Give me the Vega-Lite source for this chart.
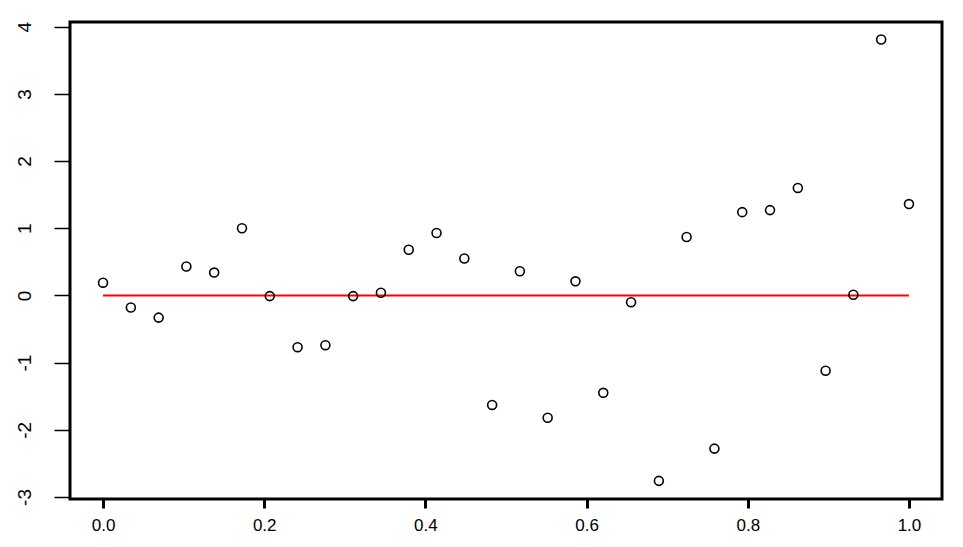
{
  "$schema": "https://vega.github.io/schema/vega-lite/v6.json",
  "autosize": "none",
  "width": 872,
  "height": 477,
  "padding": {"left": 70, "top": 22, "right": 21, "bottom": 48},
  "background": "white",
  "config": {
    "view": {"stroke": "black", "strokeWidth": 3},
    "font": "Liberation Sans"
  },
  "datasets": {
    "pts": [
      {"x": 0.0, "y": 0.19},
      {"x": 0.0345, "y": -0.18},
      {"x": 0.069, "y": -0.33},
      {"x": 0.1034, "y": 0.43},
      {"x": 0.1379, "y": 0.34},
      {"x": 0.1724, "y": 1.0},
      {"x": 0.2069, "y": -0.01},
      {"x": 0.2414, "y": -0.77},
      {"x": 0.2759, "y": -0.74},
      {"x": 0.3103, "y": -0.01},
      {"x": 0.3448, "y": 0.04},
      {"x": 0.3793, "y": 0.68},
      {"x": 0.4138, "y": 0.93},
      {"x": 0.4483, "y": 0.55},
      {"x": 0.4828, "y": -1.63},
      {"x": 0.5172, "y": 0.36},
      {"x": 0.5517, "y": -1.82},
      {"x": 0.5862, "y": 0.21},
      {"x": 0.6207, "y": -1.45},
      {"x": 0.6552, "y": -0.1},
      {"x": 0.6897, "y": -2.76},
      {"x": 0.7241, "y": 0.87},
      {"x": 0.7586, "y": -2.28},
      {"x": 0.7931, "y": 1.24},
      {"x": 0.8276, "y": 1.27},
      {"x": 0.8621, "y": 1.6},
      {"x": 0.8966, "y": -1.12},
      {"x": 0.931, "y": 0.01},
      {"x": 0.9655, "y": 3.81},
      {"x": 1.0, "y": 1.36}
    ],
    "fit": [
      {"x": 0.0, "y": 0.0},
      {"x": 1.0, "y": 0.0}
    ]
  },
  "layer": [
    {
      "data": {"name": "fit"},
      "mark": {"type": "line", "color": "#ff0000", "strokeWidth": 2},
      "encoding": {
        "x": {"field": "x", "type": "quantitative"},
        "y": {"field": "y", "type": "quantitative"}
      }
    },
    {
      "data": {"name": "pts"},
      "mark": {"type": "point", "shape": "circle", "filled": false, "color": "black", "size": 80, "strokeWidth": 1.6, "opacity": 1},
      "encoding": {
        "x": {
          "field": "x", "type": "quantitative",
          "scale": {"domain": [-0.041, 1.041], "nice": false, "zero": false},
          "axis": {
            "title": null, "grid": false, "domain": false,
            "values": [0, 0.2, 0.4, 0.6, 0.8, 1.0], "format": ".1f",
            "tickSize": 9, "tickWidth": 3, "tickColor": "black",
            "labelFontSize": 17, "labelColor": "black", "labelPadding": 9, "labelFont": "Liberation Sans"
          }
        },
        "y": {
          "field": "y", "type": "quantitative",
          "scale": {"domain": [-3.03, 4.07], "nice": false, "zero": false},
          "axis": {
            "title": null, "grid": false, "domain": false,
            "values": [-3, -2, -1, 0, 1, 2, 3, 4],
            "labelExpr": "'' + datum.value",
            "tickSize": 16, "tickWidth": 1.5, "tickColor": "black",
            "labelAngle": -90, "labelAlign": "center", "labelBaseline": "bottom",
            "labelFontSize": 19, "labelColor": "black", "labelPadding": 20, "labelFont": "Liberation Sans"
          }
        }
      }
    }
  ]
}
